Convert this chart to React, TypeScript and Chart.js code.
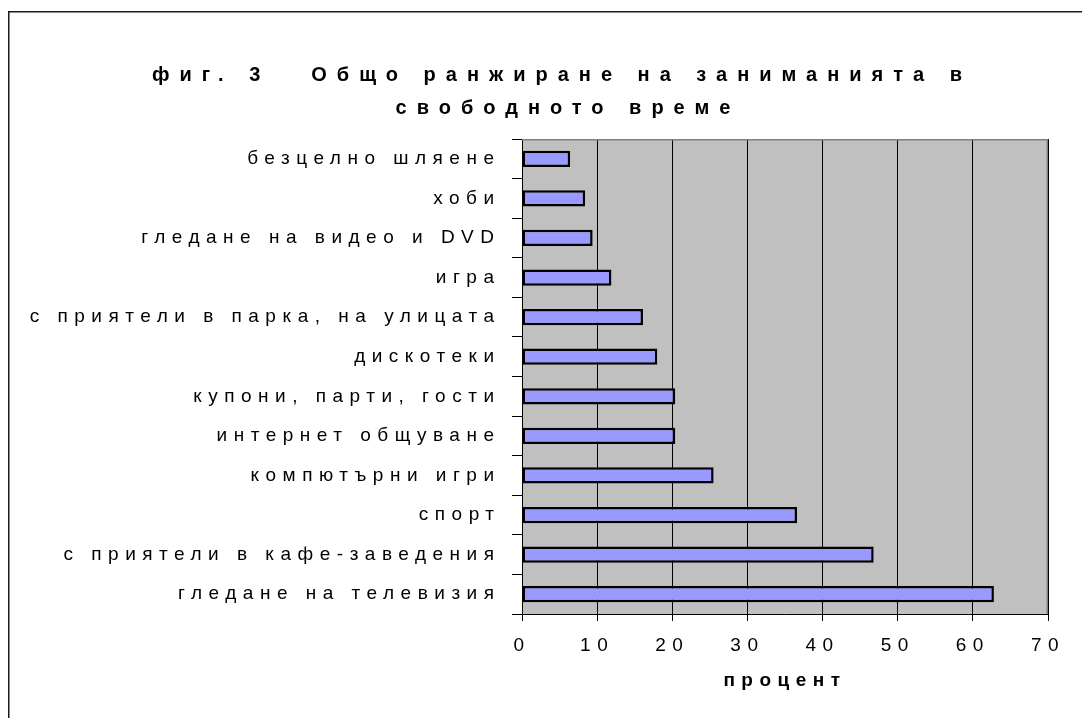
import React, { useEffect, useRef } from "react";
import { Chart, registerables } from "chart.js";

Chart.register(...registerables);

const categories = [
  "безцелно шляене",
  "хоби",
  "гледане на видео и DVD",
  "игра",
  "с приятели в парка, на улицата",
  "дискотеки",
  "купони, парти, гости",
  "интернет общуване",
  "компютърни игри",
  "спорт",
  "с приятели в кафе-заведения",
  "гледане на телевизия",
];
const values = [6.4, 8.4, 9.4, 11.9, 16.1, 18.0, 20.4, 20.4, 25.5, 36.6, 46.8, 62.8];
const xTickValues = [0, 10, 20, 30, 40, 50, 60, 70];
const titleFig = "фиг. 3";
const titleMain = "Общо ранжиране на заниманията в";
const titleLine2 = "свободното време";
const xAxisTitle = "процент";

const W = 1082;
const H = 718;
const FONT = "'Liberation Sans', Arial, sans-serif";
const LABEL_LS = 6.5;
const LABEL_SIZE = 19;
const TITLE_LS = 10;

export default function App() {
  const ref = useRef<HTMLCanvasElement>(null);

  useEffect(() => {
    const canvas = ref.current!;
    const setLS = (chart: any) => {
      (chart.ctx as any).letterSpacing = LABEL_LS + "px";
    };
    const deco = {
      id: "deco",
      beforeLayout: setLS,
      beforeDraw(chart: any) {
        const ctx = chart.ctx as CanvasRenderingContext2D & { letterSpacing: string };
        const a = chart.chartArea;
        ctx.save();
        ctx.letterSpacing = "0px";
        ctx.fillStyle = "#ffffff";
        ctx.fillRect(0, 0, W, H);
        ctx.fillStyle = "#C0C0C0";
        ctx.fillRect(a.left, a.top, a.right - a.left, a.bottom - a.top);
        ctx.strokeStyle = "#1a1a1a";
        ctx.lineWidth = 1.5;
        ctx.beginPath();
        ctx.moveTo(8.75, H + 5);
        ctx.lineTo(8.75, 11.75);
        ctx.lineTo(W + 5, 11.75);
        ctx.stroke();
        ctx.font = `bold 20px ${FONT}`;
        ctx.letterSpacing = TITLE_LS + "px";
        ctx.fillStyle = "#000";
        ctx.textBaseline = "middle";
        ctx.textAlign = "left";
        ctx.fillText(titleFig, 152, 75);
        ctx.textAlign = "right";
        ctx.fillText(titleMain, 962 + TITLE_LS, 75);
        ctx.textAlign = "center";
        ctx.fillText(titleLine2, 563 + TITLE_LS / 2, 108);
        ctx.restore();
        setLS(chart);
      },
      beforeDatasetsDraw(chart: any) {
        const ctx = chart.ctx as CanvasRenderingContext2D;
        const a = chart.chartArea;
        ctx.save();
        ctx.strokeStyle = "#808080";
        ctx.lineWidth = 1.5;
        ctx.beginPath();
        ctx.moveTo(a.left, a.top + 0.75);
        ctx.lineTo(a.right - 0.75, a.top + 0.75);
        ctx.lineTo(a.right - 0.75, a.bottom);
        ctx.stroke();
        ctx.restore();
      },
    };

    const chart = new Chart(canvas, {
      type: "bar",
      data: {
        labels: categories,
        datasets: [
          {
            data: values,
            backgroundColor: "#9999FF",
            borderColor: "#000000",
            borderWidth: 2.5,
            borderSkipped: false,
            barPercentage: 0.41,
            categoryPercentage: 1,
          },
        ],
      },
      options: {
        indexAxis: "y",
        responsive: false,
        animation: false,
        devicePixelRatio: 1,
        layout: { padding: { top: 139, right: 34, left: 0, bottom: 0 } },
        plugins: {
          legend: { display: false },
          tooltip: { enabled: false },
          title: { display: false },
        },
        scales: {
          x: {
            type: "linear",
            position: "bottom",
            min: 0,
            max: 70,
            afterBuildTicks: (s: any) => {
              s.ticks = xTickValues.map((v) => ({ value: v }));
            },
            ticks: {
              color: "#000",
              font: { family: FONT, size: LABEL_SIZE },
              padding: 13,
              maxRotation: 0,
              autoSkip: false,
            },
            grid: { color: "#000", lineWidth: 1, tickLength: 7, drawTicks: true },
            border: { color: "#000", width: 1 },
            title: {
              display: true,
              text: xAxisTitle,
              color: "#000",
              font: { family: FONT, size: LABEL_SIZE, weight: "bold" },
              padding: { top: 0, bottom: 26 },
            },
            afterFit: (s: any) => {
              s.height = 104;
            },
          },
          y: {
            type: "category",
            ticks: {
              color: "#000",
              font: { family: FONT, size: LABEL_SIZE },
              padding: 11.5,
              autoSkip: false,
            },
            grid: { drawOnChartArea: false, tickLength: 10, color: "#000", offset: true },
            border: { color: "#000", width: 1 },
            afterFit: (s: any) => {
              s.width = 522;
            },
          },
        },
      },
      plugins: [deco],
    } as any);

    return () => chart.destroy();
  }, []);

  return (
    <div style={{ position: "absolute", left: 0, top: 0, width: W, height: H, background: "#fff" }}>
      <canvas ref={ref} width={W} height={H} style={{ display: "block", width: W, height: H }} />
    </div>
  );
}
